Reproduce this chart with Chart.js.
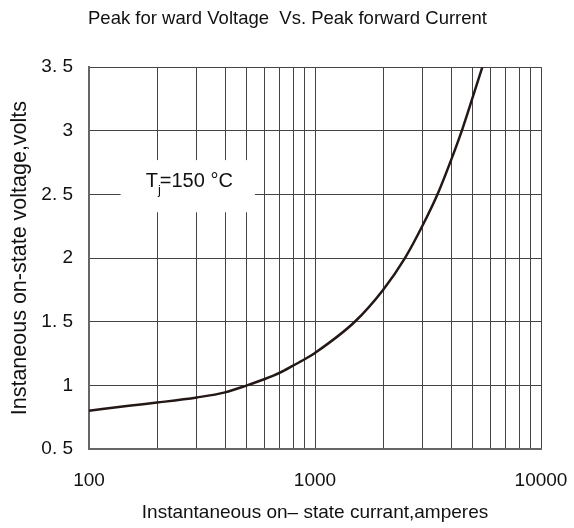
<!DOCTYPE html>
<html>
<head>
<meta charset="utf-8">
<script src="https://cdn.jsdelivr.net/npm/chart.js@4/dist/chart.umd.min.js"></script>
<style>
  body { margin: 0; background: #fff; }
</style>
</head>
<body>
<canvas id="vfChart" width="574" height="528"></canvas>
<script>
// peak forward current (A) and voltage (V)
const currents = [100, 150, 200, 300, 400, 500, 600, 700, 800, 900, 1000, 1500, 2000, 2500, 3000, 3500, 4000, 4500, 5000, 5500];
const voltages = [0.80, 0.84, 0.865, 0.905, 0.945, 1.0, 1.05, 1.10, 1.155, 1.205, 1.255, 1.50, 1.75, 2.00, 2.26, 2.51, 2.77, 3.02, 3.27, 3.50];
const xGrid = [100, 200, 300, 400, 500, 600, 700, 800, 900, 1000, 2000, 3000, 4000, 5000, 6000, 7000, 8000, 9000, 10000];
const xLabels = [100, 1000, 10000];
const yTicks = [0.5, 1, 1.5, 2, 2.5, 3, 3.5];
const yLabels = ['0. 5', '1', '1. 5', '2', '2. 5', '3', '3. 5'];

const FONT = 'Arial, "Liberation Sans", sans-serif';

// white box with the junction temperature note
const tjLabel = {
    id: 'tjLabel',
    afterDatasetsDraw(chart) {
        const { ctx, scales: { x, y } } = chart;
        const x0 = x.getPixelForValue(138), x1 = x.getPixelForValue(542);
        const y0 = y.getPixelForValue(2.77), y1 = y.getPixelForValue(2.36);
        ctx.save();
        ctx.fillStyle = '#fff';
        ctx.fillRect(x0, y0, x1 - x0, y1 - y0);
        ctx.fillStyle = '#111';
        ctx.textBaseline = 'middle';
        const cy = y.getPixelForValue(2.6);
        const t1 = 'T', t3 = '=150 \u00B0C';
        ctx.font = '20px ' + FONT;
        const w1 = ctx.measureText(t1).width;
        ctx.font = '13px ' + FONT;
        const w2 = ctx.measureText('j').width;
        ctx.font = '20px ' + FONT;
        const w3 = ctx.measureText(t3).width;
        let sx = (x0 + x1) / 2 - (w1 + w2 + w3) / 2 + 2;
        ctx.fillText(t1, sx, cy);
        sx += w1;
        ctx.font = '13px ' + FONT;
        ctx.fillText('j', sx, cy + 9);
        sx += w2;
        ctx.font = '20px ' + FONT;
        ctx.fillText(t3, sx - 1, cy);
        ctx.restore();
    }
};

const ctx = document.getElementById('vfChart').getContext('2d');
const vfChart = new Chart(ctx, {
    type: 'line',
    data: {
        datasets: [{
            data: currents.map((c, i) => ({ x: c, y: voltages[i] })),
            borderColor: '#231815',
            borderWidth: 2.5,
            pointRadius: 0,
            tension: 0.4,
            cubicInterpolationMode: 'monotone',
            fill: false
        }]
    },
    options: {
        responsive: false,
        animation: false,
        layout: { padding: { left: 5, right: 4, top: 0, bottom: 0 } },
        plugins: {
            legend: { display: false },
            tooltip: { enabled: false },
            title: {
                display: true,
                text: 'Peak for ward Voltage  Vs. Peak forward Current',
                color: '#111',
                font: { family: FONT, size: 18.5, weight: 'normal' },
                padding: { top: 8, bottom: 37 }
            }
        },
        scales: {
            x: {
                type: 'logarithmic',
                min: 100,
                max: 10000,
                afterBuildTicks: (scale) => { scale.ticks = xGrid.map(v => ({ value: v })); },
                afterFit: (scale) => {
                    scale.height = 79;
                    scale.paddingRight = 33;
                },
                ticks: {
                    autoSkip: false,
                    maxRotation: 0,
                    padding: 20,
                    color: '#111',
                    font: { family: FONT, size: 19 },
                    callback: (v) => xLabels.includes(v) ? String(v) : ''
                },
                grid: { color: '#444', lineWidth: 1, drawTicks: false },
                border: { color: '#666', width: 2 },
                title: {
                    display: true,
                    text: 'Instantaneous on\u2013 state currant,amperes',
                    color: '#111',
                    font: { family: FONT, size: 19 },
                    padding: { top: 6, bottom: 4 }
                }
            },
            y: {
                min: 0.5,
                max: 3.5,
                afterBuildTicks: (scale) => { scale.ticks = yTicks.map(v => ({ value: v })); },
                afterFit: (scale) => { scale.width = 84; },
                ticks: {
                    padding: 16,
                    color: '#111',
                    font: { family: FONT, size: 19 },
                    callback: (v) => yLabels[yTicks.indexOf(v)]
                },
                grid: { color: '#444', lineWidth: 1, drawTicks: false },
                border: { color: '#666', width: 2 },
                title: {
                    display: true,
                    text: 'Instaneous on-state voltage,volts',
                    color: '#111',
                    font: { family: FONT, size: 21.5 },
                    padding: { top: 2, bottom: 0 }
                }
            }
        }
    },
    plugins: [tjLabel]
});
</script>
</body>
</html>
